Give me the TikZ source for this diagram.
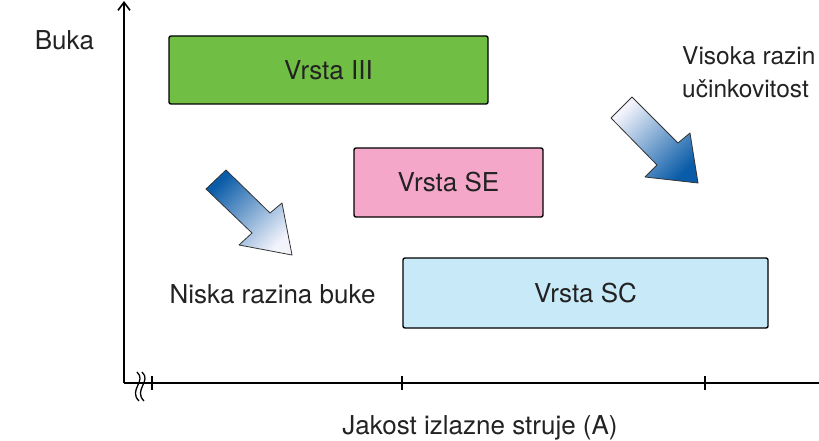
\documentclass[tikz,border=0pt]{standalone}
\usepackage{fontspec}
\setmainfont{TeX Gyre Heros}
\usetikzlibrary{arrows.meta}
\definecolor{grn}{HTML}{70BF44}
\definecolor{pnk}{HTML}{F4A7C9}
\definecolor{lblue}{HTML}{C8E9F8}
\definecolor{dblue}{HTML}{0A5CA8}
\definecolor{pale}{HTML}{F2F3FB}
\definecolor{txt}{HTML}{222222}
\begin{document}
\begin{tikzpicture}[x=1pt,y=-1pt,
  box/.style={draw=black,line width=1.4pt,rounded corners=2pt,inner sep=0pt,font=\fontsize{26}{30}\selectfont,text=txt},
  lbl/.style={inner sep=0pt,font=\fontsize{26}{30}\selectfont,text=txt},
  axis/.style={line width=2.6pt},
  bigarrow/.style={draw=black!80,line width=0.8pt,line join=round}]
\useasboundingbox (0,0) rectangle (819,441);
% axes
\coordinate (o) at (124,383);
\coordinate (ytop) at (124,1);
\coordinate (xend) at (819,383);
\draw[axis,-{Straight Barb[length=8pt,width=12pt,line width=1.6pt]}] (o) -- (ytop);
\draw[axis] (o) -- (xend);
\foreach \x in {152,402,705} \draw[line width=2.4pt] (\x,376) -- (\x,390);
% break mark
\draw[line width=1.3pt] (137,372) .. controls (147,381) and (128,390) .. (139,401);
\draw[line width=1.3pt] (142,372) .. controls (152,381) and (133,390) .. (144,401);
% boxes
\node[box,fill=grn,minimum width=319pt,minimum height=68pt] (t3) at (328.5,70) {Vrsta III};
\node[box,fill=pnk,minimum width=189pt,minimum height=69pt] (se) at (448.5,182.5) {Vrsta SE};
\node[box,fill=lblue,minimum width=365pt,minimum height=70pt] (sc) at (585.5,293) {Vrsta SC};
% labels
\node[lbl,anchor=base] (buka) at (64.5,50) {Buka};
\node[lbl,anchor=base west,font=\fontsize{24.5}{28}\selectfont] (vis) at (682,65) {Visoka razin};
\node[lbl,anchor=base west,font=\fontsize{24.5}{28}\selectfont] (uc) at (682,98) {učinkovitost};
\node[lbl,anchor=base] (nis) at (272.5,303) {Niska razina buke};
\node[lbl,anchor=base] (jak) at (480,434) {Jakost izlazne struje (A)};
% block arrows
\draw[bigarrow,top color=dblue,bottom color=pale,shading angle=45]
  (206,189) -- (226,170) -- (270,213) -- (282,203) -- (292,255) -- (239,245) -- (252,233) -- cycle;
\draw[bigarrow,top color=pale,bottom color=dblue,shading angle=45]
  (611,118) -- (632,97) -- (678,143) -- (690,133) -- (698,183) -- (645,177) -- (657,165) -- cycle;
\end{tikzpicture}
\end{document}
